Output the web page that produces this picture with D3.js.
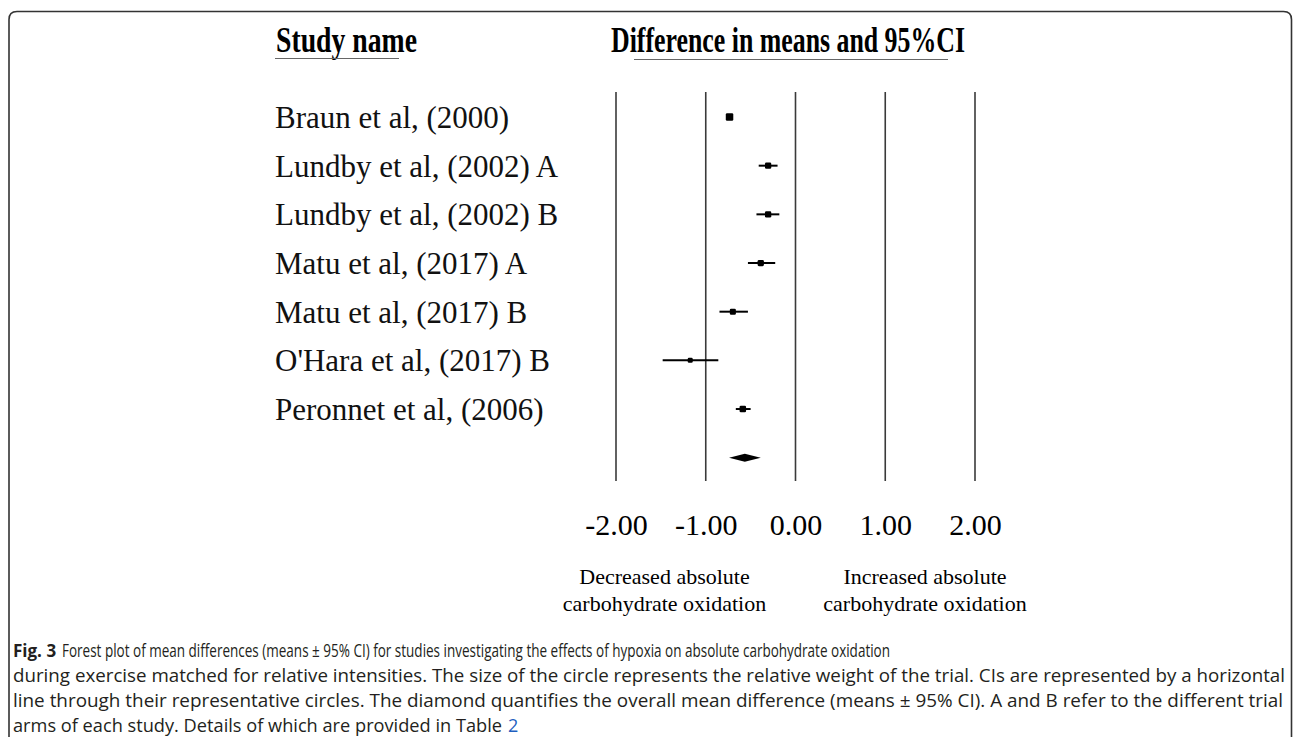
<!DOCTYPE html>
<html>
<head>
<meta charset="utf-8">
<script src="https://cdn.jsdelivr.net/npm/d3@7"></script>
<style>
  body { margin: 0; background: #fff; }
  svg { display: block; }
</style>
</head>
<body>
<div id="forest"></div>
<script>
// study rows
var studies = [
  "Braun et al, (2000)",
  "Lundby et al, (2002) A",
  "Lundby et al, (2002) B",
  "Matu et al, (2017) A",
  "Matu et al, (2017) B",
  "O'Hara et al, (2017) B",
  "Peronnet et al, (2006)"
];
var means   = [-0.735, -0.305, -0.305, -0.387, -0.698, -1.173, -0.587];
var lower   = [-0.755, -0.41, -0.435, -0.53, -0.847, -1.48, -0.665];
var upper   = [-0.715, -0.20, -0.18, -0.226, -0.53, -0.86, -0.50];
var weights = [20, 14, 14, 14, 13, 9, 15];

// overall effect: mean, lower, upper
var overall = [-0.565, -0.74, -0.387];

var tickValues = [-2, -1, 0, 1, 2];
var leftNote = ["Decreased absolute", "carbohydrate oxidation"];
var rightNote = ["Increased absolute", "carbohydrate oxidation"];

var captionLines = [
  "Forest plot of mean differences (means \u00b1 95% CI) for studies investigating the effects of hypoxia on absolute carbohydrate oxidation",
  "during exercise matched for relative intensities. The size of the circle represents the relative weight of the trial. CIs are represented by a horizontal",
  "line through their representative circles. The diamond quantifies the overall mean difference (means \u00b1 95% CI). A and B refer to the different trial",
  "arms of each study. Details of which are provided in Table"
];

var width = 1293,
    height = 737;

var svg = d3.select("#forest").append("svg")
  .attr("width", width)
  .attr("height", height);

// frame around the figure
var fl = 9, ft = 11.5, fr = 1291.5, rad = 8;
svg.append("path")
  .attr("d", "M" + fl + "," + (height + 5) + "V" + (ft + rad) +
    "Q" + fl + "," + ft + " " + (fl + rad) + "," + ft +
    "H" + (fr - rad) + "Q" + fr + "," + ft + " " + fr + "," + (ft + rad) +
    "V" + (height + 5))
  .attr("fill", "none")
  .attr("stroke", "#333")
  .attr("stroke-width", 1.6);

var x = d3.scaleLinear()
  .domain([-2, 2])
  .range([616, 975]);

var rows = d3.range(studies.length + 1);
var y = d3.scalePoint()
  .domain(rows)
  .range([117, 457.7]);

var size = d3.scaleSqrt()
  .domain([0, 20])
  .range([0, 7.5]);

var serif = "'Liberation Serif', 'Times New Roman', serif";

// headers
svg.append("text")
  .attr("x", 276)
  .attr("y", 52)
  .attr("textLength", 141)
  .attr("lengthAdjust", "spacingAndGlyphs")
  .style("font-family", serif)
  .style("font-weight", "bold")
  .style("font-size", "35px")
  .text("Study name");

svg.append("line")
  .attr("x1", 275).attr("x2", 399)
  .attr("y1", 58.5).attr("y2", 58.5)
  .attr("stroke", "#666")
  .attr("stroke-width", 1.2);

svg.append("text")
  .attr("x", 611)
  .attr("y", 52)
  .attr("textLength", 354)
  .attr("lengthAdjust", "spacingAndGlyphs")
  .style("font-family", serif)
  .style("font-weight", "bold")
  .style("font-size", "35px")
  .text("Difference in means and 95%CI");

svg.append("line")
  .attr("x1", 634).attr("x2", 948)
  .attr("y1", 59.5).attr("y2", 59.5)
  .attr("stroke", "#666")
  .attr("stroke-width", 1.2);

// study labels
svg.selectAll(".study")
  .data(studies)
  .enter().append("text")
  .attr("class", "study")
  .attr("x", 275)
  .attr("y", function(d, i) { return y(i) + 11; })
  .style("font-family", serif)
  .style("font-size", "31px")
  .style("fill", "#111")
  .text(function(d) { return d; });

// vertical reference lines
svg.selectAll(".grid")
  .data(tickValues)
  .enter().append("line")
  .attr("class", "grid")
  .attr("x1", function(d) { return x(d); })
  .attr("x2", function(d) { return x(d); })
  .attr("y1", 92)
  .attr("y2", 481)
  .attr("stroke", "#3a3a3a")
  .attr("stroke-width", 1.6);

// axis labels
var xAxis = d3.axisBottom()
  .scale(x)
  .tickValues(tickValues)
  .tickSize(0)
  .tickFormat(function(d) { return d.toFixed(2); });

var axisG = svg.append("g")
  .attr("class", "x axis")
  .attr("transform", "translate(0,535)")
  .call(xAxis);

axisG.select(".domain").remove();
axisG.selectAll("text")
  .attr("y", 0)
  .attr("dy", 0)
  .style("font-family", serif)
  .style("font-size", "30px")
  .style("fill", "#000");

// confidence intervals
svg.selectAll(".ci")
  .data(studies)
  .enter().append("line")
  .attr("class", "ci")
  .attr("x1", function(d, i) { return x(lower[i]); })
  .attr("x2", function(d, i) { return x(upper[i]); })
  .attr("y1", function(d, i) { return y(i); })
  .attr("y2", function(d, i) { return y(i); })
  .attr("stroke", "#000")
  .attr("stroke-width", 2);

// point estimates, size by weight
svg.selectAll(".point")
  .data(studies)
  .enter().append("rect")
  .attr("class", "point")
  .attr("x", function(d, i) { return x(means[i]) - size(weights[i]) / 2; })
  .attr("y", function(d, i) { return y(i) - size(weights[i]) / 2; })
  .attr("width", function(d, i) { return size(weights[i]); })
  .attr("height", function(d, i) { return size(weights[i]); })
  .attr("rx", 1.3)
  .attr("fill", "#000");

// overall diamond
var yo = y(studies.length);
svg.append("path")
  .attr("d", "M" + x(overall[1]) + "," + yo +
    "L" + x(overall[0]) + "," + (yo - 4) +
    "L" + x(overall[2]) + "," + yo +
    "L" + x(overall[0]) + "," + (yo + 4) + "Z")
  .attr("fill", "#000");

// direction notes
svg.selectAll(".noteL")
  .data(leftNote)
  .enter().append("text")
  .attr("x", 664.5)
  .attr("y", function(d, i) { return 584 + i * 27; })
  .attr("text-anchor", "middle")
  .style("font-family", serif)
  .style("font-size", "22px")
  .text(function(d) { return d; });

svg.selectAll(".noteR")
  .data(rightNote)
  .enter().append("text")
  .attr("x", 925)
  .attr("y", function(d, i) { return 584 + i * 27; })
  .attr("text-anchor", "middle")
  .style("font-family", serif)
  .style("font-size", "22px")
  .text(function(d) { return d; });

// caption, each line squeezed to its span in the figure
var capFont = "'Open Sans', sans-serif";
var capStart = [62, 13, 13, 13];
var capLengths = [828, 1272, 1270, 489];

svg.append("text")
  .attr("x", 13)
  .attr("y", 657)
  .style("font-family", capFont)
  .style("font-size", "17px")
  .style("font-weight", "bold")
  .style("fill", "#231f20")
  .text("Fig. 3");

svg.selectAll(".caption")
  .data(captionLines)
  .enter().append("text")
  .attr("class", "caption")
  .attr("x", function(d, i) { return capStart[i]; })
  .attr("y", function(d, i) { return 657 + i * 25; })
  .attr("textLength", function(d, i) { return capLengths[i]; })
  .attr("lengthAdjust", "spacingAndGlyphs")
  .style("font-family", capFont)
  .style("font-size", "18px")
  .style("fill", "#231f20")
  .text(function(d) { return d; });

svg.append("text")
  .attr("x", 508)
  .attr("y", 657 + 3 * 25)
  .style("font-family", capFont)
  .style("font-size", "18px")
  .style("fill", "#1f5fbf")
  .text("2");
</script>
</body>
</html>
